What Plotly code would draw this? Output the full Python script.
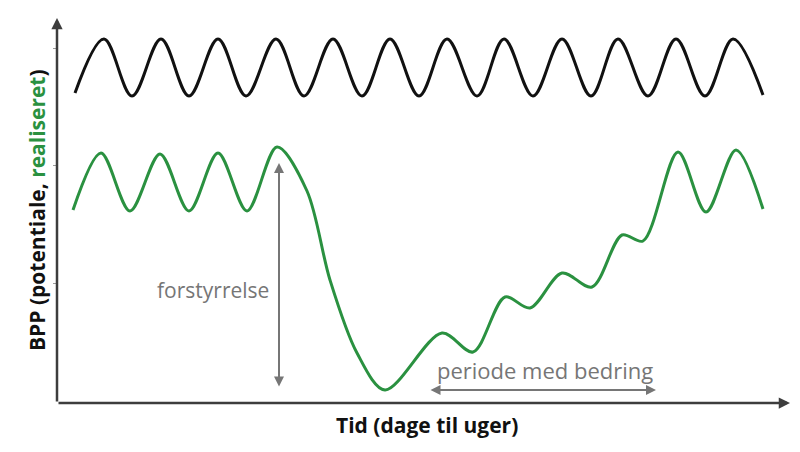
import plotly.graph_objects as go

# values (time units, BPP units; origin at the axes corner)
potential_t = [18, 47, 75, 104, 132, 161, 189, 219, 247, 276, 305, 333, 362,
               390, 420, 447, 476, 505, 534, 561, 591, 619, 648, 676, 706]
potential_v = [310, 364, 307, 364, 307, 364, 307, 364, 307, 364, 307, 364, 307,
               364, 307, 364, 307, 364, 307, 364, 307, 364, 307, 364, 308]

realised_t = [16, 44, 73, 103, 132, 161, 190, 220, 250, 273, 300, 328, 385, 416, 448,
              473, 505, 535, 565, 586, 621, 649, 679, 706]
realised_v = [193, 250, 192, 249, 192, 250, 192, 256, 212, 123, 50, 13, 70, 51, 106,
              95, 130, 116, 168, 162, 251, 191, 253, 194]

yticks = [120, 238, 355]

axis_col = "#3d3d3d"
grey = "#767676"
green = "#2a9140"

fig = go.Figure()

fig.add_trace(go.Scatter(
    x=potential_t, y=potential_v, mode="lines",
    line=dict(color="#111111", width=3, shape="spline", smoothing=1),
    name="potentiale",
))
fig.add_trace(go.Scatter(
    x=realised_t, y=realised_v, mode="lines",
    line=dict(color=green, width=3, shape="spline", smoothing=0.9),
    name="realiseret",
))

annotations = [
    # axes with arrow heads
    dict(x=733, y=0, ax=0, ay=0, axref="x", ayref="y", xref="x", yref="y",
         text="", showarrow=True, arrowhead=2, arrowsize=0.9,
         arrowwidth=2.5, arrowcolor=axis_col),
    dict(x=0, y=385, ax=0, ay=0, axref="x", ayref="y", xref="x", yref="y",
         text="", showarrow=True, arrowhead=2, arrowsize=0.9,
         arrowwidth=2.5, arrowcolor=axis_col),
    # disturbance arrow
    dict(x=222, y=240, ax=222, ay=15, axref="x", ayref="y", xref="x", yref="y",
         text="", showarrow=True, arrowhead=2, startarrowhead=2,
         arrowside="end+start", arrowsize=1, startarrowsize=1,
         arrowwidth=2, arrowcolor=grey),
    # recovery arrow
    dict(x=599, y=13, ax=372, ay=13, axref="x", ayref="y", xref="x", yref="y",
         text="", showarrow=True, arrowhead=2, startarrowhead=2,
         arrowside="end+start", arrowsize=1, startarrowsize=1,
         arrowwidth=2, arrowcolor=grey),
    dict(x=214, y=113, xref="x", yref="y", text="forstyrrelse",
         showarrow=False, xanchor="right", yanchor="middle",
         font=dict(family="Open Sans", size=21, color=grey)),
    dict(x=488, y=33, xref="x", yref="y", text="periode med bedring",
         showarrow=False, xanchor="center", yanchor="middle",
         font=dict(family="Open Sans", size=22, color=grey)),
    dict(x=370 / 733, y=-22 / 385, xref="paper", yref="paper",
         text="<b>Tid (dage til uger)</b>",
         showarrow=False, xanchor="center", yanchor="middle",
         font=dict(family="Open Sans", size=21, color="#111111")),
    dict(x=-20 / 733, y=193 / 385, xref="paper", yref="paper", textangle=-90,
         text="<b>BPP (potentiale, <span style='color:%s'>realiseret</span>)</b>" % green,
         showarrow=False, xanchor="center", yanchor="middle",
         font=dict(family="Open Sans", size=21, color="#111111")),
]

# the page body adds an 8px margin, so the figure is sized to compensate
fig.update_layout(
    width=784, height=436,
    margin=dict(l=49, r=2, t=10, b=41),
    paper_bgcolor="white", plot_bgcolor="white",
    showlegend=False,
    annotations=annotations,
    xaxis=dict(range=[0, 733], showgrid=False, zeroline=False,
               showticklabels=False, showline=False, ticks=""),
    yaxis=dict(range=[0, 385], showgrid=False, zeroline=False,
               showticklabels=False, showline=False,
               tickvals=yticks, ticks="outside", ticklen=3,
               tickcolor="#9a9a9a", tickwidth=1),
)

fig.write_html("out.html")
